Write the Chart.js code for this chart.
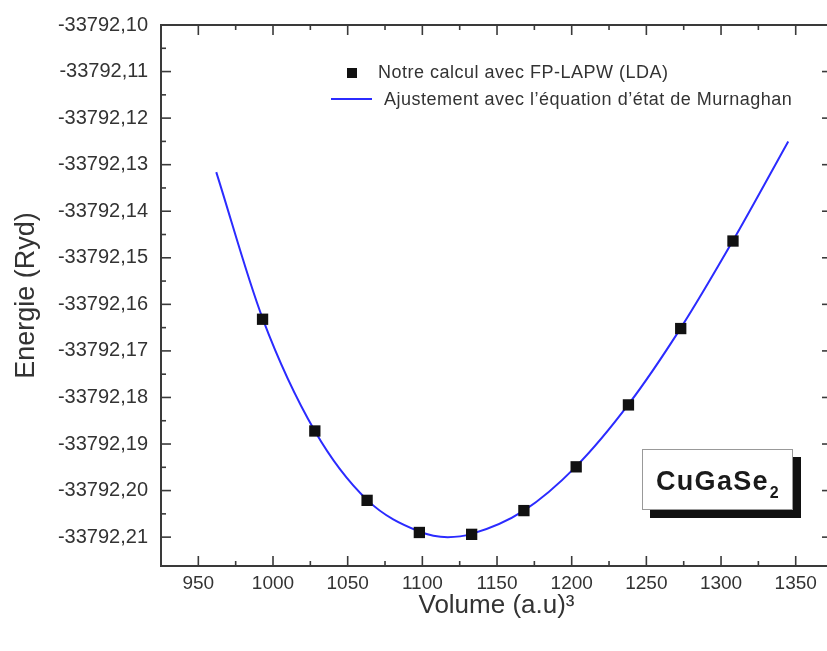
<!DOCTYPE html>
<html>
<head>
<meta charset="utf-8">
<title>CuGaSe2 - Energie en fonction du volume</title>
<script src="https://cdn.jsdelivr.net/npm/chart.js@4/dist/chart.umd.min.js"></script>
<style>
    html, body { margin: 0; padding: 0; background: #fff; overflow: hidden; }
    #wrap { width: 840px; height: 651px; }
</style>
</head>
<body>
<div id="wrap"><canvas id="myChart" width="840" height="651"></canvas></div>
<script>
// FP-LAPW (LDA) points
var volumes = [993, 1028, 1063, 1098, 1133, 1168, 1203, 1238, 1273, 1308];
var energies = [-33792.1632, -33792.1872, -33792.2021, -33792.2090, -33792.2094,
                -33792.2043, -33792.1949, -33792.1816, -33792.1652, -33792.1464];

// Murnaghan fit, sampled along the curve
var fitVolumes = [962, 993, 1028, 1063, 1098, 1117, 1133, 1168, 1203, 1238, 1273, 1308, 1345];
var fitEnergies = [-33792.1316, -33792.1630, -33792.1872, -33792.2020, -33792.2088, -33792.2100,
                   -33792.2093, -33792.2043, -33792.1948, -33792.1815, -33792.1651, -33792.1463, -33792.1250];

var xTickValues = [950, 1000, 1050, 1100, 1150, 1200, 1250, 1300, 1350];
var yTickValues = [-33792.21, -33792.20, -33792.19, -33792.18, -33792.17, -33792.16,
                   -33792.15, -33792.14, -33792.13, -33792.12, -33792.11, -33792.10];

var legendLabels = ['Notre calcul avec FP-LAPW (LDA)', 'Ajustement avec l\u2019\u00e9quation d\u2019\u00e9tat de Murnaghan'];

var axisColor = '#3a3a3a';
var textColor = '#333';
var fitColor = '#2b2bff';
var fontFamily = '"Liberation Sans", Arial, sans-serif';

function toPoints(xs, ys) {
    var pts = [];
    for (var i = 0; i < xs.length; i++) {
        pts.push({x: xs[i], y: ys[i]});
    }
    return pts;
}

function line(ctx, x1, y1, x2, y2) {
    ctx.beginPath();
    ctx.moveTo(x1, y1);
    ctx.lineTo(x2, y2);
    ctx.stroke();
}

// Closed frame with inward ticks on all four sides (major + minor)
var framePlugin = {
    id: 'frame',
    afterDraw: function (chart) {
        var ctx = chart.ctx;
        var a = chart.chartArea;
        var x = chart.scales.x, y = chart.scales.y;
        ctx.save();
        ctx.strokeStyle = axisColor;
        ctx.lineWidth = 2;
        ctx.strokeRect(a.left, a.top, a.right - a.left, a.bottom - a.top);

        var xs = x.ticks.map(function (t) { return x.getPixelForValue(t.value); });
        var ys = y.ticks.map(function (t) { return y.getPixelForValue(t.value); });

        ctx.lineWidth = 1.6;
        xs.forEach(function (px, i) {
            line(ctx, px, a.bottom, px, a.bottom - 10);
            line(ctx, px, a.top, px, a.top + 10);
            if (i > 0) {
                var m = (px + xs[i - 1]) / 2;
                line(ctx, m, a.bottom, m, a.bottom - 5);
                line(ctx, m, a.top, m, a.top + 5);
            }
        });
        ys.forEach(function (py, i) {
            line(ctx, a.left, py, a.left + 10, py);
            line(ctx, a.right, py, a.right - 10, py);
            if (i > 0) {
                var m = (py + ys[i - 1]) / 2;
                line(ctx, a.left, m, a.left + 5, m);
                line(ctx, a.right, m, a.right - 5, m);
            }
        });
        ctx.restore();
    }
};

// Legend in the upper part of the plot
var legendPlugin = {
    id: 'innerLegend',
    afterDraw: function (chart) {
        var ctx = chart.ctx;
        ctx.save();
        ctx.font = '18px ' + fontFamily;
        ctx.letterSpacing = '0.5px';
        ctx.textBaseline = 'middle';

        ctx.fillStyle = '#111';
        ctx.fillRect(347, 68, 10, 10);
        ctx.fillStyle = textColor;
        ctx.fillText(legendLabels[0], 378, 73);

        ctx.strokeStyle = fitColor;
        ctx.lineWidth = 2;
        line(ctx, 331, 99, 372, 99);
        ctx.fillText(legendLabels[1], 384, 100);
        ctx.restore();
    }
};

// Compound label with drop shadow
var labelPlugin = {
    id: 'compoundLabel',
    afterDraw: function (chart) {
        var ctx = chart.ctx;
        ctx.save();
        ctx.fillStyle = '#111';
        ctx.fillRect(650, 457, 151, 61);
        ctx.fillStyle = '#fff';
        ctx.fillRect(642, 449, 151, 61);
        ctx.strokeStyle = '#999';
        ctx.lineWidth = 1;
        ctx.strokeRect(642.5, 449.5, 150, 60);

        ctx.fillStyle = '#1a1a1a';
        ctx.textBaseline = 'alphabetic';
        ctx.font = 'bold 27px ' + fontFamily;
        ctx.letterSpacing = '1.3px';
        ctx.fillText('CuGaSe', 656, 490);
        var w = ctx.measureText('CuGaSe').width;
        ctx.font = 'bold 16px ' + fontFamily;
        ctx.fillText('2', 656 + w + 1, 498);
        ctx.restore();
    }
};

function createChart() {
    var ctx = document.getElementById('myChart').getContext('2d');
    return new Chart(ctx, {
        type: 'scatter',
        data: {
            datasets: [
                {
                    label: legendLabels[0],
                    data: toPoints(volumes, energies),
                    pointStyle: 'rect',
                    pointRadius: 8,
                    pointHoverRadius: 8,
                    backgroundColor: '#111',
                    borderColor: '#111',
                    borderWidth: 0,
                    showLine: false,
                    order: 0
                },
                {
                    label: legendLabels[1],
                    data: toPoints(fitVolumes, fitEnergies),
                    showLine: true,
                    cubicInterpolationMode: 'monotone',
                    borderColor: fitColor,
                    borderWidth: 2,
                    pointRadius: 0,
                    fill: false,
                    order: 1
                }
            ]
        },
        options: {
            responsive: false,
            animation: false,
            layout: { padding: { top: 22, right: 5, left: 0, bottom: 0 } },
            plugins: {
                legend: { display: false },
                tooltip: { enabled: false }
            },
            scales: {
                x: {
                    type: 'linear',
                    min: 925,
                    max: 1374.3,
                    afterBuildTicks: function (scale) {
                        scale.ticks = xTickValues.map(function (v) { return {value: v}; });
                    },
                    afterFit: function (scale) { scale.height = 85; },
                    grid: { display: false, drawTicks: false },
                    border: { display: false },
                    ticks: {
                        padding: 6,
                        color: textColor,
                        font: { family: fontFamily, size: 19 },
                        callback: function (v) { return String(v); }
                    },
                    title: {
                        display: true,
                        text: 'Volume (a.u)\u00b3',
                        color: textColor,
                        font: { family: fontFamily, size: 26 },
                        padding: { top: 0, bottom: 30 }
                    }
                },
                y: {
                    type: 'linear',
                    min: -33792.2162,
                    max: -33792.10,
                    afterBuildTicks: function (scale) {
                        scale.ticks = yTickValues.map(function (v) { return {value: v}; });
                    },
                    afterFit: function (scale) { scale.width = 161; },
                    grid: { display: false, drawTicks: false },
                    border: { display: false },
                    ticks: {
                        padding: 13,
                        color: textColor,
                        font: { family: fontFamily, size: 20 },
                        callback: function (v) { return v.toFixed(2).replace('.', ','); }
                    },
                    title: {
                        display: true,
                        text: 'Energie (Ryd)',
                        color: textColor,
                        font: { family: fontFamily, size: 27 },
                        padding: { top: 10, bottom: 0 }
                    }
                }
            }
        },
        plugins: [framePlugin, legendPlugin, labelPlugin]
    });
}

createChart();
</script>
</body>
</html>
